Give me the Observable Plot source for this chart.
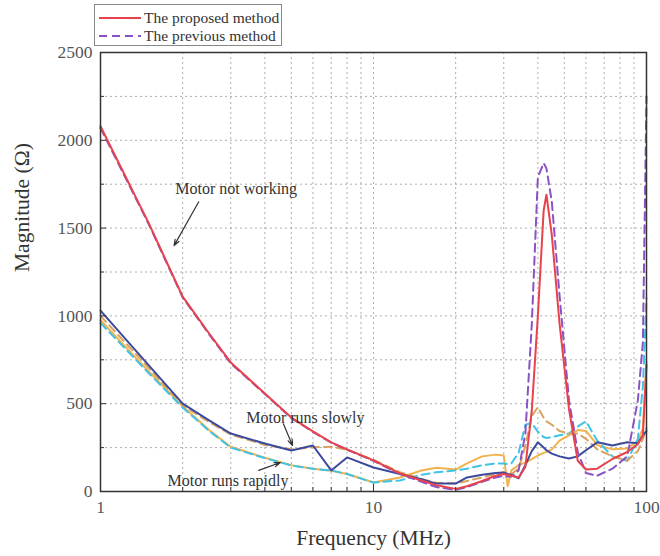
<!DOCTYPE html>
<html><head><meta charset="utf-8">
<script src="https://cdn.jsdelivr.net/npm/d3@7"></script>
<script src="https://cdn.jsdelivr.net/npm/@observablehq/plot@0.6"></script>
<style>
body{margin:0;background:#fff;font-family:"Liberation Serif","Times New Roman",serif}
#wrap{position:relative;width:660px;height:556px}
#legend{position:absolute;left:94px;top:4px;width:188px;height:42px;border:1px solid #888;background:#fff;font-size:15.5px;color:#333;box-sizing:border-box}
#legend .row{position:absolute;left:3px;height:18px;display:flex;align-items:center;white-space:nowrap}
#legend svg{margin-right:2px}
</style></head>
<body>
<div id="wrap"></div>
<script>
// Frequency grid (MHz)
const freq = [1, 1.5, 2, 2.5, 3, 4, 5, 6, 7, 8, 10, 12.5, 15, 17, 20, 22, 25, 28, 30, 31, 32, 34, 36, 38, 40, 42, 43, 45, 48, 52, 56, 60, 66, 75, 85, 93, 97, 100];
// Motor not working
const notWorkingProposed = [2080, 1530, 1110, 900, 735, 558, 421, 342, 280, 240, 177, 103, 63, 35, 15, 30, 60, 90, 100, 95, 90, 80, 140, 460, 1000, 1600, 1690, 1460, 960, 470, 175, 125, 130, 185, 225, 270, 320, 720];
const notWorkingPrevious = [2070, 1525, 1105, 895, 730, 555, 418, 340, 278, 238, 175, 100, 55, 25, 10, 25, 55, 80, 90, 85, 85, 120, 330, 950, 1790, 1870, 1840, 1650, 1120, 520, 225, 105, 90, 130, 200, 520, 850, 2250];
// Motor runs slowly
const slowlyProposed = [1030, 720, 500, 405, 330, 273, 233, 262, 120, 194, 137, 100, 70, 45, 45, 80, 95, 105, 108, 100, 95, 75, 150, 230, 280, 250, 235, 216, 200, 188, 200, 235, 280, 262, 280, 275, 320, 345];
const slowlyPrevious = [1000, 705, 490, 395, 325, 265, 240, 252, 255, 238, 180, 110, 70, 50, 45, 60, 80, 100, 110, 105, 100, 130, 260, 430, 480, 420, 400, 380, 345, 330, 330, 300, 240, 200, 175, 230, 300, 360];
// Motor runs rapidly
const rapidlyProposed = [975, 685, 485, 350, 255, 192, 150, 130, 118, 100, 51, 80, 120, 135, 125, 160, 200, 210, 205, 30, 120, 150, 165, 185, 205, 220, 225, 240, 290, 320, 350, 345, 265, 240, 245, 290, 360, 740];
const rapidlyPrevious = [960, 675, 478, 345, 250, 190, 148, 130, 120, 100, 51, 63, 95, 110, 120, 130, 150, 160, 160, 155, 160, 220, 380, 390, 340, 310, 305, 310, 320, 330, 370, 400, 290, 200, 175, 300, 600, 1100];

const yMajor = [0, 500, 1000, 1500, 2000, 2500];
const yMinor = [250, 750, 1250, 1750, 2250];
const xMajor = [1, 10, 100];
const xMinor = [2, 3, 4, 5, 6, 7, 8, 9, 20, 30, 40, 50, 60, 70, 80, 90];
const gridYVals = [250, 500, 750, 1000, 1250, 1500, 1750, 2000, 2250];
const gridXVals = [2, 3, 4, 5, 6, 7, 8, 9, 10, 20, 30, 40, 50, 60, 70, 80, 90];

const annoLabels = ["Motor not working", "Motor runs slowly", "Motor runs rapidly"];
const annoF = [1.88, 3.42, 1.76];
const annoV = [1725, 420, 60];
const arrowF1 = [2.29, 4.68, 3.80];
const arrowV1 = [1650, 385, 120];
const arrowF2 = [1.86, 5.05, 4.56];
const arrowV2 = [1400, 262, 165];

const series = [
  {vals: rapidlyProposed, color: "#f2b24e", dash: null},
  {vals: rapidlyPrevious, color: "#3fc3e6", dash: "8,5"},
  {vals: slowlyPrevious, color: "#d9a35e", dash: "8,5"},
  {vals: slowlyProposed, color: "#3c4a9e", dash: null},
  {vals: notWorkingPrevious, color: "#8a52c6", dash: "8,5"},
  {vals: notWorkingProposed, color: "#e8424c", dash: null}
];

const lineMarks = series.map(s => {
  const data = freq.map((f, i) => ({f, v: s.vals[i]}));
  return Plot.line(data, {x: "f", y: "v", stroke: s.color, strokeWidth: 2, strokeDasharray: s.dash || undefined, curve: "linear"});
});

const annos = annoLabels.map((t, i) => ({t, f: annoF[i], v: annoV[i]}));
const arrows = annoLabels.map((t, i) => ({x1: arrowF1[i], y1: arrowV1[i], x2: arrowF2[i], y2: arrowV2[i]}));

const chart = Plot.plot({
  width: 660, height: 556,
  marginLeft: 100, marginRight: 14, marginTop: 52, marginBottom: 65,
  style: {fontFamily: "'Liberation Serif', 'Times New Roman', serif", background: "#fff", color: "#555"},
  x: {type: "log", domain: [1, 100]},
  y: {domain: [0, 2500]},
  marks: [
    Plot.gridX(gridXVals, {stroke: "#8a8a8a", strokeOpacity: 0.7, strokeDasharray: "2,3"}),
    Plot.gridY(gridYVals, {stroke: "#8a8a8a", strokeOpacity: 0.7, strokeDasharray: "2,3"}),
    ...lineMarks,
    Plot.arrow(arrows, {x1: "x1", y1: "y1", x2: "x2", y2: "y2", stroke: "#333", strokeWidth: 1.2, headLength: 8, headAngle: 40}),
    Plot.text(annos, {x: "f", y: "v", text: "t", textAnchor: "start", fontSize: 16, fill: "#333"}),
    Plot.axisY({ticks: yMinor, tickSize: -4, tickFormat: () => "", stroke: "#333"}),
    Plot.axisY({ticks: yMajor, tickSize: -6, tickFormat: () => "", stroke: "#333"}),
    Plot.axisY({ticks: yMajor, tickSize: 0, tickPadding: 8, fontSize: 17.5, fill: "#555", tickFormat: d => String(d), label: null}),
    Plot.axisX({ticks: xMinor, tickSize: -4, tickFormat: () => "", stroke: "#333"}),
    Plot.axisX({ticks: xMajor, tickSize: -7, tickFormat: () => "", stroke: "#333"}),
    Plot.axisX({ticks: xMajor, tickSize: 0, tickPadding: 9, fontSize: 17.5, fill: "#555", tickFormat: d => String(d), label: null}),
    Plot.frame({stroke: "#333", strokeWidth: 1.5}),
    Plot.text(["Frequency (MHz)"], {frameAnchor: "bottom", dy: 47, lineAnchor: "middle", fontSize: 21.5, fill: "#333"}),
    Plot.text(["Magnitude (Ω)"], {frameAnchor: "left", dx: -78, rotate: -90, lineAnchor: "middle", fontSize: 21.5, fill: "#333"})
  ]
});

const wrap = document.getElementById("wrap");
wrap.appendChild(chart);
const legend = document.createElement("div");
legend.id = "legend";
legend.innerHTML = `
<div class="row" style="top:4px"><svg width="44" height="10"><line x1="1" y1="5" x2="43" y2="5" stroke="#e8424c" stroke-width="2"/></svg>The proposed method</div>
<div class="row" style="top:22px"><svg width="44" height="10"><line x1="1" y1="5" x2="43" y2="5" stroke="#8a52c6" stroke-width="2" stroke-dasharray="8,5"/></svg>The previous method</div>`;
wrap.appendChild(legend);
</script>
</body></html>
